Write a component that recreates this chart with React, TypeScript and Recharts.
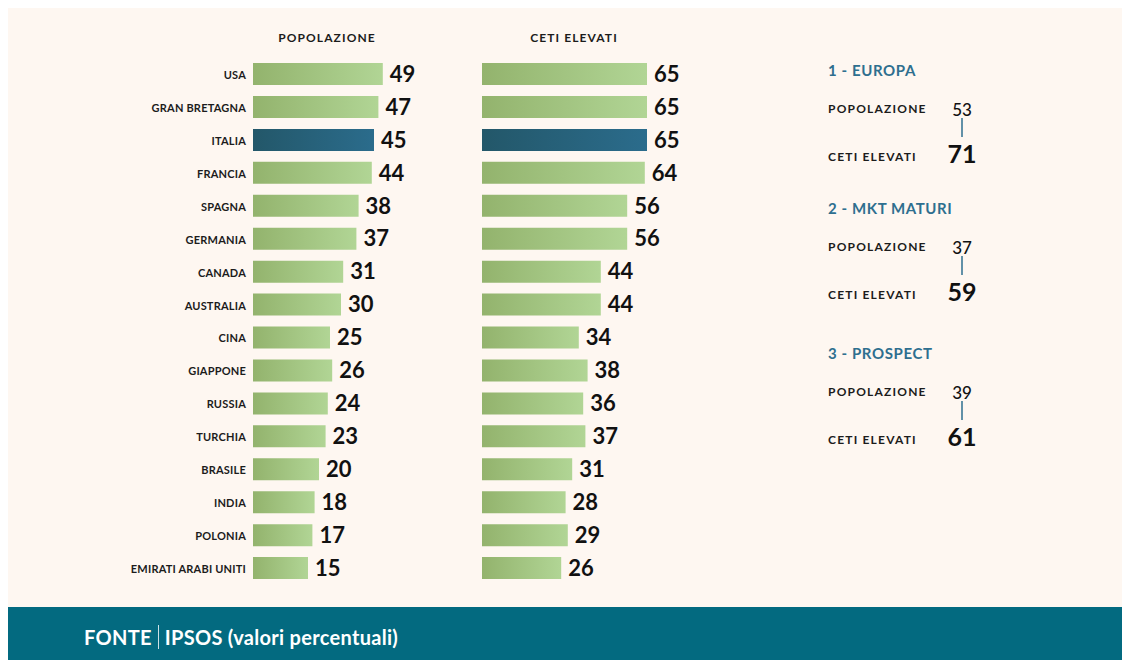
import React from "react";
import { BarChart, Bar, XAxis, YAxis, Cell, LabelList } from "recharts";

const countries = [
  "USA",
  "GRAN BRETAGNA",
  "ITALIA",
  "FRANCIA",
  "SPAGNA",
  "GERMANIA",
  "CANADA",
  "AUSTRALIA",
  "CINA",
  "GIAPPONE",
  "RUSSIA",
  "TURCHIA",
  "BRASILE",
  "INDIA",
  "POLONIA",
  "EMIRATI ARABI UNITI",
];
const popolazione = [49, 47, 45, 44, 38, 37, 31, 30, 25, 26, 24, 23, 20, 18, 17, 15];
const cetiElevati = [65, 65, 65, 64, 56, 56, 44, 44, 34, 38, 36, 37, 31, 28, 29, 26];
const highlighted = "ITALIA";

const groupNames = ["1 - EUROPA", "2 - MKT MATURI", "3 - PROSPECT"];
const groupPopolazione = [53, 37, 39];
const groupCeti = [71, 59, 61];

const headerPop = "POPOLAZIONE";
const headerCeti = "CETI ELEVATI";
const footerSource = "FONTE";
const footerText = "IPSOS (valori percentuali)";

// axis baseline (bars start at this value)
const BASE = -10;

const data = countries.map((c, i) => ({
  country: c,
  pop: popolazione[i],
  ceti: cetiElevati[i],
}));

const CREAM = "#fef7f1";
const TEAL = "#036a80";
const BLUE_TEXT = "#2e6f8f";

const CountryTick = (props: any) => {
  const { x, y, payload } = props;
  return (
    <text
      x={x}
      y={y}
      textAnchor="end"
      dominantBaseline="central"
      fontSize={11}
      fontWeight={700}
      fill="#1c1c1c"
      letterSpacing={0.2}
    >
      {payload.value}
    </text>
  );
};

const Gradients = ({ prefix }: { prefix: string }) => (
  <defs>
    <linearGradient id={`${prefix}-green`} x1="0" y1="0" x2="1" y2="0">
      <stop offset="0%" stopColor="#93b36d" />
      <stop offset="100%" stopColor="#b1d595" />
    </linearGradient>
    <linearGradient id={`${prefix}-blue`} x1="0" y1="0" x2="1" y2="0">
      <stop offset="0%" stopColor="#235769" />
      <stop offset="100%" stopColor="#2b6c8c" />
    </linearGradient>
  </defs>
);

const labelStyle = { fontSize: 22, fontWeight: 700, fill: "#111" };

export default function App() {
  const groupTops = [62, 200, 345];
  return (
    <div
      style={{
        position: "relative",
        width: 1122,
        height: 652,
        fontFamily: "Lato, 'Noto Sans', sans-serif",
      }}
    >
      <div
        style={{
          position: "absolute",
          left: 0,
          top: 0,
          width: 1122,
          height: 599,
          background: CREAM,
        }}
      />
      {/* headers */}
      <div
        style={{
          position: "absolute",
          left: 219,
          width: 200,
          top: 21,
          height: 18,
          lineHeight: "18px",
          textAlign: "center",
          fontSize: 12,
          fontWeight: 700,
          letterSpacing: 1.1,
          color: "#1c1c1c",
        }}
      >
        {headerPop}
      </div>
      <div
        style={{
          position: "absolute",
          left: 466,
          width: 200,
          top: 21,
          height: 18,
          lineHeight: "18px",
          textAlign: "center",
          fontSize: 12,
          fontWeight: 700,
          letterSpacing: 1.1,
          color: "#1c1c1c",
        }}
      >
        {headerCeti}
      </div>

      {/* Chart 1: popolazione */}
      <div style={{ position: "absolute", left: 115, top: 50 }}>
        <BarChart
          width={329}
          height={527}
          data={data}
          layout="vertical"
          margin={{ top: 0, right: 45, bottom: 0, left: 0 }}
          barSize={22}
        >
          <Gradients prefix="c1" />
          <XAxis type="number" hide domain={[BASE, 60]} />
          <YAxis
            type="category"
            dataKey="country"
            width={130}
            axisLine={false}
            tickLine={false}
            tickSize={0}
            tickMargin={7}
            interval={0}
            tick={<CountryTick />}
          />
          <Bar
            dataKey={(d: any) => [BASE, d.pop]}
            isAnimationActive={false}
          >
            {data.map((d) => (
              <Cell
                key={d.country}
                fill={d.country === highlighted ? "url(#c1-blue)" : "url(#c1-green)"}
              />
            ))}
            <LabelList dataKey="pop" position="right" offset={7} style={labelStyle} />
          </Bar>
        </BarChart>
      </div>

      {/* Chart 2: ceti elevati */}
      <div style={{ position: "absolute", left: 474, top: 50 }}>
        <BarChart
          width={240}
          height={527}
          data={data}
          layout="vertical"
          margin={{ top: 0, right: 53, bottom: 0, left: 0 }}
          barSize={22}
        >
          <Gradients prefix="c2" />
          <XAxis type="number" hide domain={[BASE, 75]} />
          <YAxis type="category" dataKey="country" hide />
          <Bar
            dataKey={(d: any) => [BASE, d.ceti]}
            isAnimationActive={false}
          >
            {data.map((d) => (
              <Cell
                key={d.country}
                fill={d.country === highlighted ? "url(#c2-blue)" : "url(#c2-green)"}
              />
            ))}
            <LabelList dataKey="ceti" position="right" offset={7} style={labelStyle} />
          </Bar>
        </BarChart>
      </div>

      {/* Right panel */}
      <svg
        style={{ position: "absolute", left: 812, top: 0 }}
        width={300}
        height={599}
      >
        {groupNames.map((name, i) => {
          const t = groupTops[i];
          return (
            <g key={name}>
              <text
                x={8}
                y={t}
                dominantBaseline="central"
                fontSize={15}
                fontWeight={700}
                fill={BLUE_TEXT}
                letterSpacing={0.6}
              >
                {name}
              </text>
              <text
                x={8}
                y={t + 38}
                dominantBaseline="central"
                fontSize={12}
                fontWeight={700}
                fill="#1c1c1c"
                letterSpacing={1.2}
              >
                {headerPop}
              </text>
              <text
                x={142}
                y={t + 39}
                dominantBaseline="central"
                textAnchor="middle"
                fontSize={17}
                fontWeight={500}
                fill="#111"
              >
                {groupPopolazione[i]}
              </text>
              <line
                x1={142}
                x2={142}
                y1={t + 48}
                y2={t + 67}
                stroke={BLUE_TEXT}
                strokeWidth={1.5}
              />
              <text
                x={8}
                y={t + 86}
                dominantBaseline="central"
                fontSize={12}
                fontWeight={700}
                fill="#1c1c1c"
                letterSpacing={1.2}
              >
                {headerCeti}
              </text>
              <text
                x={142}
                y={t + 83}
                dominantBaseline="central"
                textAnchor="middle"
                fontSize={25}
                fontWeight={700}
                fill="#111"
              >
                {groupCeti[i]}
              </text>
            </g>
          );
        })}
      </svg>

      {/* Footer */}
      <div
        style={{
          position: "absolute",
          left: 0,
          top: 599,
          width: 1122,
          height: 53,
          background: TEAL,
          color: "#fff",
          display: "flex",
          alignItems: "center",
          paddingTop: 6,
          boxSizing: "border-box",
        }}
      >
        <span style={{ marginLeft: 76, fontSize: 20, fontWeight: 700, letterSpacing: 0.3 }}>
          {footerSource}
        </span>
        <span
          style={{
            display: "inline-block",
            width: 1,
            height: 24,
            background: "rgba(255,255,255,0.8)",
            margin: "0 6px",
          }}
        />
        <span style={{ fontSize: 20, fontWeight: 700, letterSpacing: 0.3 }}>{footerText}</span>
      </div>
    </div>
  );
}
